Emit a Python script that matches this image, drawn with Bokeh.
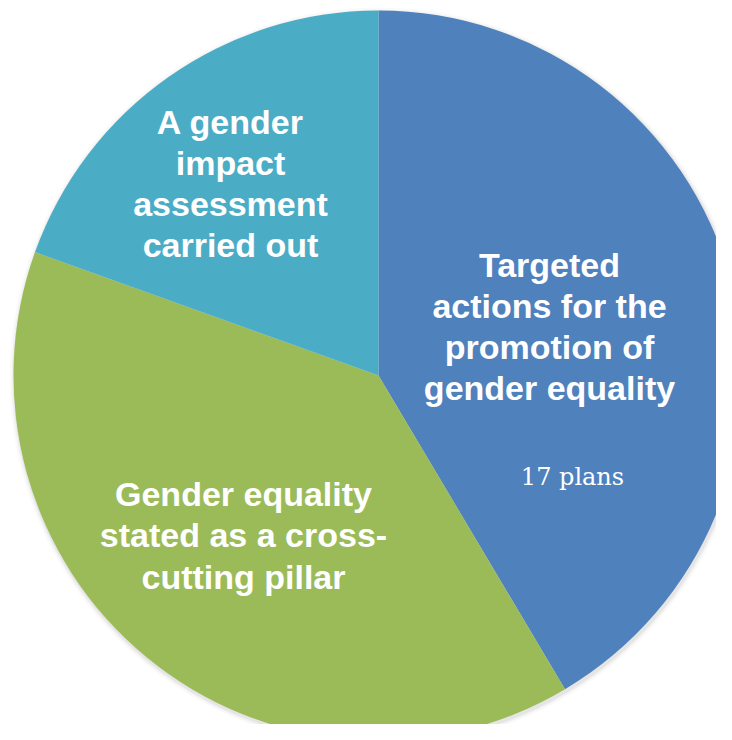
import math
from bokeh.plotting import figure
from bokeh.models import ColumnDataSource
from bokeh.core.properties import value
from bokeh.embed import file_html
from bokeh.resources import INLINE

# ---- data ----
categories = [
    "Targeted\nactions for the\npromotion of\ngender equality",
    "Gender equality\nstated as a cross-\ncutting pillar",
    "A gender\nimpact\nassessment\ncarried out",
]
plans = [17, 16, 8]
colors = ["#4F81BD", "#9BBB59", "#4BACC6"]
value_label = "17 plans"

# ---- layout ----
W, H = 716, 724
cx, cy, r = 378, H - 375, 365

total = sum(plans)
starts, ends = [], []
cum = 0
for v in plans:
    a0 = math.pi / 2 - 2 * math.pi * cum / total
    cum += v
    a1 = math.pi / 2 - 2 * math.pi * cum / total
    starts.append(a1)
    ends.append(a0)

src = ColumnDataSource(dict(cat=categories, v=plans, color=colors,
                            start=starts, end=ends))

p = figure(width=W, height=H, x_range=(0, W), y_range=(0, H),
           output_backend="svg", toolbar_location=None, min_border=0)
p.axis.visible = False
p.grid.visible = False
p.outline_line_color = None
p.background_fill_color = "white"
p.border_fill_color = "white"

# soft shadow
for rr, al in [(r + 5, 0.04), (r + 3, 0.07), (r + 1.5, 0.10)]:
    p.circle(x=[cx + 1], y=[cy - 2], radius=rr, fill_color="#808080",
             fill_alpha=al, line_color=None)

p.wedge(x=cx, y=cy, radius=r, start_angle="start", end_angle="end",
        fill_color="color", line_color=None, source=src)

# label anchors (layout)
lab_x = [549, 243, 230]
lab_y = [H - 326, H - 535, H - 183]
p.text(x=lab_x, y=lab_y, text=categories, text_color="white",
       text_font=value("Liberation Sans"), text_font_style="bold",
       text_font_size="34px", text_align="center", text_baseline="middle",
       text_line_height=1.08)

p.text(x=[572], y=[H - 476], text=[value_label], text_color="white",
       text_font=value("DejaVu Serif"), text_font_size="24px",
       text_align="center", text_baseline="middle")

open("out.html", "w").write(file_html(p, INLINE))
